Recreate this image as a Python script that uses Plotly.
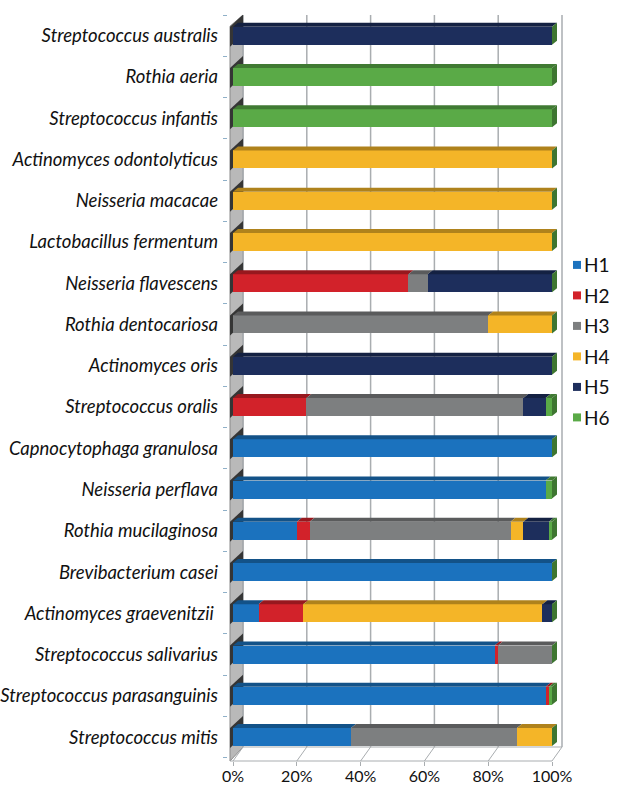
import plotly.graph_objects as go

# Species, listed top to bottom as they appear on the chart
species = [
    "Streptococcus australis",
    "Rothia aeria",
    "Streptococcus infantis",
    "Actinomyces odontolyticus",
    "Neisseria macacae",
    "Lactobacillus fermentum",
    "Neisseria flavescens",
    "Rothia dentocariosa",
    "Actinomyces oris",
    "Streptococcus oralis",
    "Capnocytophaga granulosa",
    "Neisseria perflava",
    "Rothia mucilaginosa",
    "Brevibacterium casei",
    "Actinomyces graevenitzii ",
    "Streptococcus salivarius",
    "Streptococcus parasanguinis",
    "Streptococcus mitis",
]

series_names = ["H1", "H2", "H3", "H4", "H5", "H6"]

# Percentage share of each group per species (same order as `species`)
h1 = [0, 0, 0, 0, 0, 0, 0, 0, 0, 0, 100, 98, 20, 100, 8, 82, 98, 37]
h2 = [0, 0, 0, 0, 0, 0, 55, 0, 0, 23, 0, 0, 4, 0, 14, 1, 1, 0]
h3 = [0, 0, 0, 0, 0, 0, 6, 80, 0, 68, 0, 0, 63, 0, 0, 17, 0, 52]
h4 = [0, 0, 0, 100, 100, 100, 0, 20, 0, 0, 0, 0, 4, 0, 75, 0, 0, 11]
h5 = [100, 0, 0, 0, 0, 0, 39, 0, 100, 7, 0, 0, 8, 0, 3, 0, 0, 0]
h6 = [0, 100, 100, 0, 0, 0, 0, 0, 0, 2, 0, 2, 1, 0, 0, 0, 1, 0]

x_ticks = [0, 20, 40, 60, 80, 100]

series_values = [h1, h2, h3, h4, h5, h6]
colors = ["#1b72be", "#d2222a", "#7d7f80", "#f4b528", "#1d2e5c", "#5aaa47"]


def darker(hex_color, f=0.72):
    r, g, b = (int(hex_color[i:i + 2], 16) for i in (1, 3, 5))
    return "#%02x%02x%02x" % (int(r * f), int(g * f), int(b * f))


# Geometry of the pseudo-3D look (pixels)
SCALE_W = 319                 # pixels spanned by 0..100 %
PLOT_H = 746
PX = 100.0 / SCALE_W          # data units per pixel along x
PAD_L, PAD_R = 5, 12          # room left/right of the 0..100 span
DEPTH_X = 10 * PX             # back wall shift (x)
FLOOR_Y = 14 / PLOT_H         # back wall shift (paper y)
BAR_PX = 9                    # half thickness of bar front face
FACE_DX = 5 * PX              # bar depth, x
FACE_DY = 4                   # bar depth, y (pixels)
GRID = "#a9adb0"

fig = go.Figure()

for name, vals, col in zip(series_names, series_values, colors):
    fig.add_trace(go.Bar(
        name=name, y=species, x=vals, orientation="h",
        marker=dict(color=col, line=dict(width=0)),
        width=0.436, showlegend=False,
        hovertemplate="%{y}: %{x}%<extra>" + name + "</extra>",
    ))

shapes = []

# Left wall
shapes.append(dict(
    type="path", xref="x", yref="paper", layer="below",
    path=f"M{-3*PX},0 L{-3*PX},0.985 L{DEPTH_X},1.0 L{DEPTH_X},{FLOOR_Y} Z",
    fillcolor="#b9b9b9", line=dict(color="#8a8a8a", width=1),
))
# Floor: front edge, back edge and depth lines at each tick
shapes.append(dict(
    type="line", xref="x", yref="paper", layer="below",
    x0=-3 * PX, x1=100, y0=0, y1=0, line=dict(color=GRID, width=1),
))
shapes.append(dict(
    type="line", xref="x", yref="paper", layer="below",
    x0=DEPTH_X, x1=100 + DEPTH_X, y0=FLOOR_Y, y1=FLOOR_Y,
    line=dict(color=GRID, width=1),
))
for t in x_ticks:
    shapes.append(dict(
        type="line", xref="x", yref="paper", layer="below",
        x0=t + DEPTH_X, x1=t + DEPTH_X, y0=FLOOR_Y, y1=1.0,
        line=dict(color=GRID, width=1.5),
    ))
    shapes.append(dict(
        type="line", xref="x", yref="paper", layer="below",
        x0=t, x1=t + DEPTH_X, y0=0, y1=FLOOR_Y,
        line=dict(color=GRID, width=1),
    ))

# Shaded stripes on the left wall, one per row
for sp in species:
    shapes.append(dict(
        type="path", xref="x", yref="y", layer="below",
        ysizemode="pixel", yanchor=sp,
        path=f"M{-3*PX},-11 L{-3*PX},9 L{DEPTH_X},21 L{DEPTH_X},1 Z",
        fillcolor="#353535", line=dict(width=0),
    ))

# Top faces of each stacked segment and the end caps
for i, sp in enumerate(species):
    start = 0
    for vals, col in zip(series_values, colors):
        v = vals[i]
        if v > 0:
            x0, x1 = start, start + v
            shapes.append(dict(
                type="path", xref="x", yref="y", layer="above",
                ysizemode="pixel", yanchor=sp,
                path=(f"M{x0},{BAR_PX} L{x1},{BAR_PX} "
                      f"L{x1 + FACE_DX},{BAR_PX + FACE_DY} "
                      f"L{x0 + FACE_DX},{BAR_PX + FACE_DY} Z"),
                fillcolor=darker(col), line=dict(width=0),
            ))
        start += v
    shapes.append(dict(
        type="path", xref="x", yref="y", layer="above",
        ysizemode="pixel", yanchor=sp,
        path=(f"M{start},{BAR_PX} L{start + FACE_DX},{BAR_PX + FACE_DY} "
              f"L{start + FACE_DX},{-BAR_PX + FACE_DY} L{start},{-BAR_PX} Z"),
        fillcolor=darker(colors[-1], 0.7), line=dict(width=0),
    ))

# Legend drawn as small squares with labels
plot_w = SCALE_W + PAD_L + PAD_R
annotations = []
LEG_X = (577 - (233 - PAD_L)) / plot_w
LEG_Y0 = 0.665
LEG_STEP = 30.5 / PLOT_H
for k, (name, col) in enumerate(zip(series_names, colors)):
    yk = LEG_Y0 - k * LEG_STEP
    shapes.append(dict(
        type="rect", xref="paper", yref="paper",
        xsizemode="pixel", ysizemode="pixel", xanchor=LEG_X, yanchor=yk,
        x0=-4, x1=4, y0=-4, y1=4,
        fillcolor=col, line=dict(width=0),
    ))
    annotations.append(dict(
        xref="paper", yref="paper", x=LEG_X + 5 / plot_w, y=yk,
        xanchor="left", yanchor="middle", text=name, showarrow=False,
        font=dict(family="Lato", size=19, color="#111111"),
    ))

fig.update_layout(
    barmode="stack",
    width=620, height=791,
    margin=dict(l=233 - PAD_L, r=620 - (233 - PAD_L) - plot_w, t=15, b=30),
    paper_bgcolor="white", plot_bgcolor="rgba(0,0,0,0)",
    shapes=shapes, annotations=annotations,
    showlegend=False,
    xaxis=dict(
        range=[-PAD_L * PX, 100 + PAD_R * PX], tickvals=x_ticks,
        ticktext=[f"{t}%" for t in x_ticks],
        showgrid=False, zeroline=False, showline=False, automargin=False,
        ticks="outside", ticklen=4, tickcolor=GRID, ticklabelstandoff=-3,
        tickfont=dict(family="Lato", size=16, color="#111111"),
    ),
    yaxis=dict(
        type="category", categoryorder="array", categoryarray=species,
        range=[17.58, -0.5], automargin=False,
        tickvals=species, ticktext=[f"<i>{s}</i>" for s in species],
        showgrid=False, zeroline=False, showline=False,
        ticks="outside", ticklen=4, tickcolor="#8fb0c8", tickson="boundaries",
        ticklabelstandoff=9,
        tickfont=dict(family="Lato", size=18.5, color="#111111"),
    ),
)

fig.write_html("out.html")
